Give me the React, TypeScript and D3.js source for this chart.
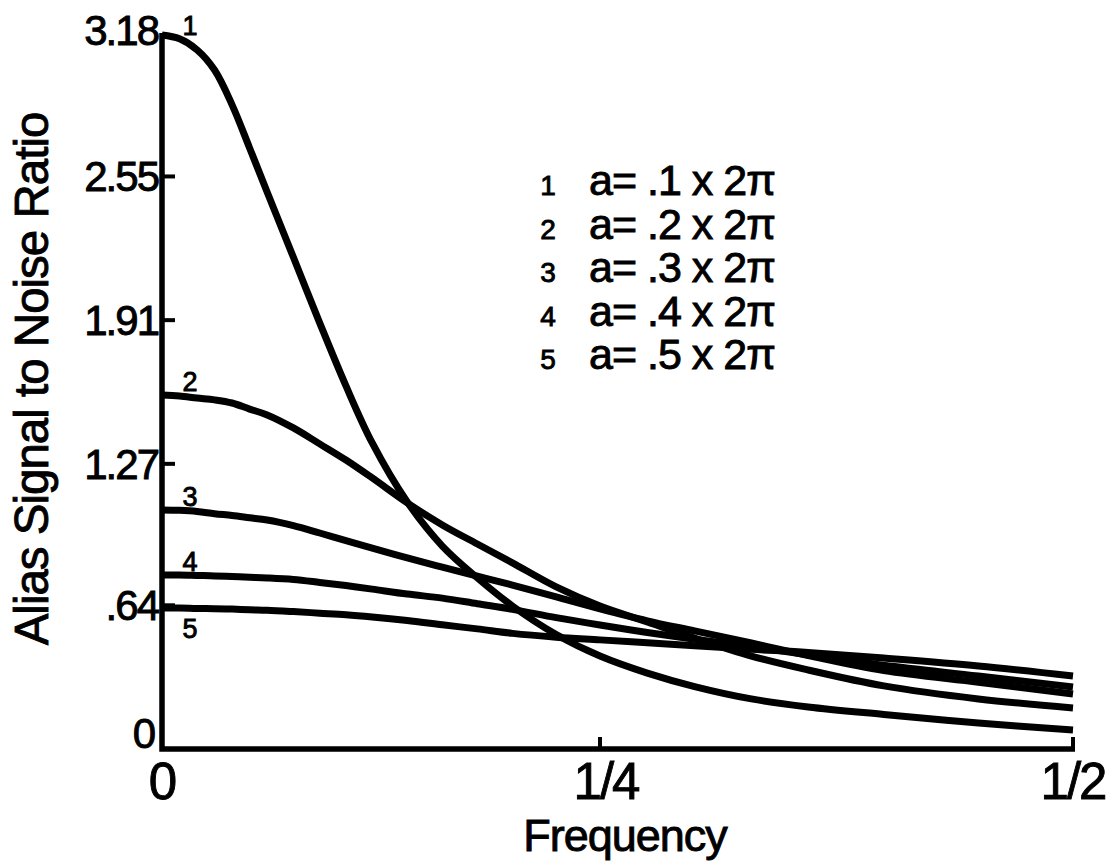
import React, { useRef, useEffect } from "react";
import * as d3 from "d3";

// frequency samples shared by all curves (cycles / sample)
const frequency = [0, 0.01, 0.02, 0.03, 0.04, 0.05, 0.06, 0.075, 0.09, 0.105, 0.12, 0.14, 0.16, 0.18, 0.2, 0.225, 0.25, 0.275, 0.3, 0.33, 0.36, 0.4, 0.45, 0.5];

// alias signal to noise ratio
const ratio1 = [3.18, 3.163, 3.114, 3.024, 2.869, 2.677, 2.481, 2.19, 1.898, 1.617, 1.363, 1.1, 0.904, 0.762, 0.637, 0.51, 0.414, 0.338, 0.278, 0.223, 0.187, 0.154, 0.116, 0.085];
const ratio2 = [1.577, 1.572, 1.563, 1.555, 1.541, 1.514, 1.488, 1.43, 1.359, 1.287, 1.207, 1.096, 0.998, 0.913, 0.829, 0.722, 0.637, 0.566, 0.494, 0.414, 0.352, 0.281, 0.223, 0.183];
const ratio3 = [1.065, 1.063, 1.058, 1.048, 1.04, 1.03, 1.02, 0.995, 0.962, 0.928, 0.895, 0.851, 0.81, 0.77, 0.73, 0.677, 0.624, 0.571, 0.526, 0.472, 0.416, 0.349, 0.297, 0.245];
const ratio4 = [0.775, 0.775, 0.773, 0.771, 0.768, 0.765, 0.762, 0.755, 0.742, 0.728, 0.712, 0.69, 0.672, 0.647, 0.622, 0.585, 0.552, 0.519, 0.489, 0.455, 0.42, 0.373, 0.325, 0.276];
const ratio5 = [0.628, 0.628, 0.626, 0.625, 0.623, 0.62, 0.618, 0.612, 0.605, 0.598, 0.588, 0.572, 0.553, 0.535, 0.515, 0.498, 0.486, 0.473, 0.46, 0.444, 0.43, 0.405, 0.37, 0.325];

const seriesNames = ["1", "2", "3", "4", "5"];
const legendLabels = ["a= .1 x 2\u03C0", "a= .2 x 2\u03C0", "a= .3 x 2\u03C0", "a= .4 x 2\u03C0", "a= .5 x 2\u03C0"];

const yTicks = [0, 0.64, 1.27, 1.91, 2.55, 3.18];
const yTickLabels = ["0", ".64", "1.27", "1.91", "2.55", "3.18"];
const xTicks = [0, 0.25, 0.5];
const xTickLabels = ["0", "1/4", "1/2"];

const FONT = "'Liberation Sans', Arial, Helvetica, sans-serif";

const App = () => {
	const ref = useRef(null);
	const width = 1119;
	const height = 862;

	useEffect(() => {
		const svg = d3.select(ref.current);
		svg.selectAll("*").remove();

		const series = [ratio1, ratio2, ratio3, ratio4, ratio5];

		// the drawn axis is not quite linear: 1/4 sits a bit left of the middle
		const x = d3.scaleLinear().domain([0, 0.25, 0.5]).range([162, 600, 1073]);
		const y = d3.scaleLinear().domain([0, 3.18]).range([749, 35]);

		const line = d3
			.line()
			.x((d) => x(d[0]))
			.y((d) => y(d[1]))
			.curve(d3.curveCatmullRom.alpha(0.5));

		// curves
		series.forEach((vals) => {
			svg
				.append("path")
				.datum(frequency.map((f, i) => [f, vals[i]]))
				.attr("d", line)
				.attr("fill", "none")
				.attr("stroke", "#000")
				.attr("stroke-width", 7)
				.attr("stroke-linejoin", "round");
		});

		// axes
		svg
			.append("path")
			.attr("d", `M${x(0)},${y(3.18) - 2}V${y(0)}H${x(0.5) + 2}`)
			.attr("fill", "none")
			.attr("stroke", "#000")
			.attr("stroke-width", 5.5);

		// y ticks point inward
		svg
			.selectAll(".ytick")
			.data(yTicks.filter((t) => t > 0 && t < 3.18))
			.enter()
			.append("line")
			.attr("x1", x(0))
			.attr("x2", x(0) + 13)
			.attr("y1", (d) => y(d))
			.attr("y2", (d) => y(d))
			.attr("stroke", "#000")
			.attr("stroke-width", 4);

		svg
			.selectAll(".xtick")
			.data(xTicks.filter((t) => t > 0))
			.enter()
			.append("line")
			.attr("x1", (d) => x(d))
			.attr("x2", (d) => x(d))
			.attr("y1", y(0))
			.attr("y2", y(0) - 12)
			.attr("stroke", "#000")
			.attr("stroke-width", 4);

		// y tick labels
		svg
			.selectAll(".ylab")
			.data(yTicks)
			.enter()
			.append("text")
			.attr("x", (d, i) => (i === 0 ? 154 : 158))
			.attr("y", (d, i) => (i === yTicks.length - 1 ? y(d) + 10 : i === 0 ? y(d) - 1 : y(d) + 15))
			.attr("text-anchor", "end")
			.attr("font-family", FONT)
			.attr("font-size", 42)
			.attr("letter-spacing", -2)
			.text((d, i) => yTickLabels[i]);

		// x tick labels
		svg
			.selectAll(".xlab")
			.data(xTicks)
			.enter()
			.append("text")
			.attr("x", (d) => x(d) + (d === 0.25 ? 6 : 0))
			.attr("y", 799)
			.attr("text-anchor", "middle")
			.attr("font-family", FONT)
			.attr("font-size", 51)
			.attr("letter-spacing", -2)
			.text((d, i) => xTickLabels[i]);

		// axis titles
		svg
			.append("text")
			.attr("x", 625)
			.attr("y", 851)
			.attr("text-anchor", "middle")
			.attr("font-family", FONT)
			.attr("font-size", 45)
			.attr("letter-spacing", -1)
			.text("Frequency");

		svg
			.append("text")
			.attr("transform", "translate(48,379) rotate(-90)")
			.attr("text-anchor", "middle")
			.attr("font-family", FONT)
			.attr("font-size", 47.5)
			.attr("letter-spacing", -1)
			.text("Alias Signal to Noise Ratio");

		// curve numbers next to the y axis
		svg
			.selectAll(".cnum")
			.data(series)
			.enter()
			.append("text")
			.attr("x", 190)
			.attr("y", (d, i) => (i === 4 ? y(d[0]) + 30 : y(d[0]) - (i === 0 ? 0 : 4)))
			.attr("text-anchor", "middle")
			.attr("font-family", FONT)
			.attr("font-size", 27)
			.text((d, i) => seriesNames[i]);

		// legend
		const legend = svg.append("g").attr("transform", "translate(0,195)");
		seriesNames.forEach((name, i) => {
			legend
				.append("text")
				.attr("x", 548)
				.attr("y", i * 43.6)
				.attr("text-anchor", "middle")
				.attr("font-family", FONT)
				.attr("font-size", 28)
				.text(name);
			legend
				.append("text")
				.attr("x", 589)
				.attr("y", i * 43.6)
				.attr("font-family", FONT)
				.attr("font-size", 43)
				.attr("letter-spacing", -1)
				.text(legendLabels[i]);
		});

		// the scanned lettering is heavier than a regular face
		svg.selectAll("text").attr("stroke", "#000").attr("stroke-width", 0.9);
	}, []);

	return (
		<svg
			ref={ref}
			width={width}
			height={height}
			style={{ position: "absolute", left: 0, top: 0, background: "#fff" }}
		/>
	);
};

export default App;
